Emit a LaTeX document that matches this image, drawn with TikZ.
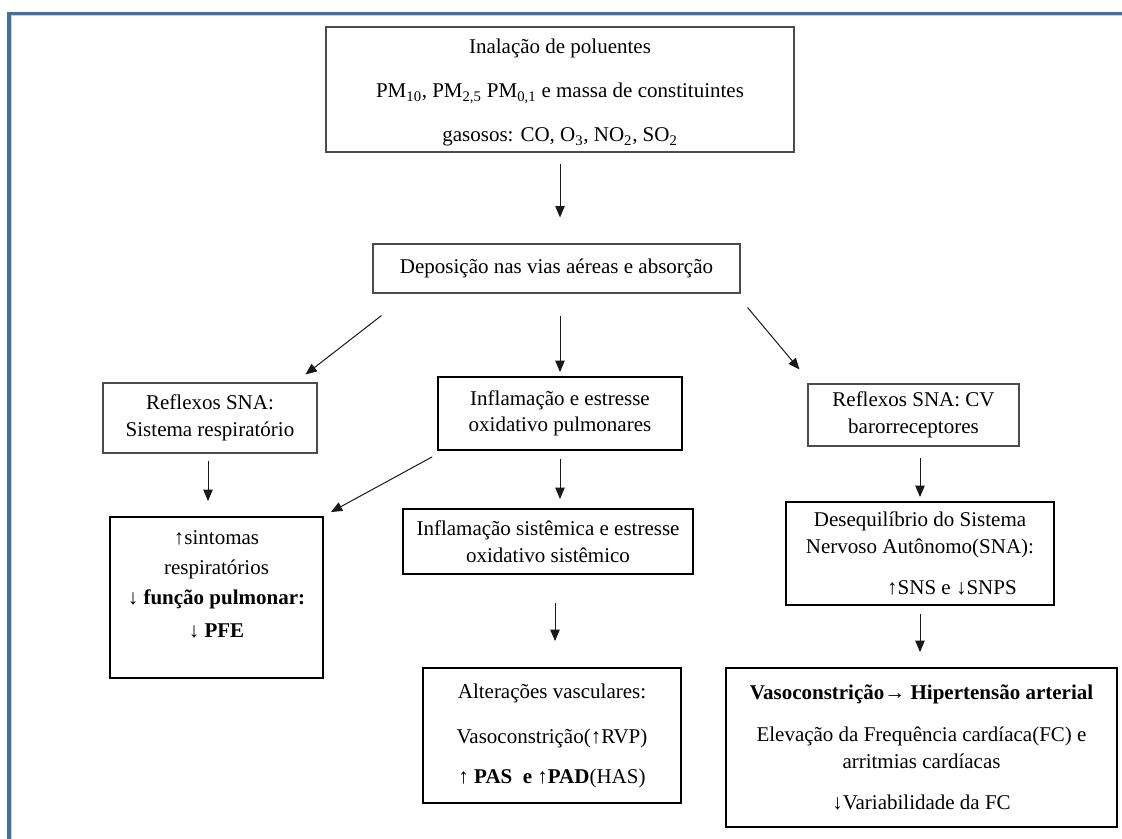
\documentclass[tikz,border=0pt]{standalone}
\usepackage{fontspec}
\setmainfont{Liberation Serif}
\usetikzlibrary{arrows.meta,calc}
\definecolor{frameblue}{RGB}{68,112,154}
\definecolor{framelight}{RGB}{185,212,232}
\begin{document}
\begin{tikzpicture}[x=0.75pt,y=-0.75pt,
  thinbox/.style={draw=black!70,line width=0.8pt,inner sep=0pt,align=center,
    font=\fontsize{15.75}{20}\selectfont},
  thickbox/.style={thinbox,draw=black,line width=1.4pt},
  conn/.style={draw=black!90,line width=0.75pt,-{Triangle[length=8.5pt,width=7pt]}}]
\useasboundingbox (0,0) rectangle (1122,839);
\fill[white] (0,0) rectangle (1122,839);
% frame
\draw[frameblue,line width=3pt,line join=miter] (9.3,839) -- (9.3,13.5) -- (1122,13.5);
\draw[framelight,line width=0.75pt] (11.8,839) -- (11.8,15.8) -- (1122,15.8);

% boxes
\node[thinbox,minimum width=468*0.75pt,minimum height=125*0.75pt] (inal) at (560,89.5)
  {\rule{0pt}{16pt}Inalação de poluentes\\[13pt]
   PM\textsubscript{10}, PM\textsubscript{2,5} PM\textsubscript{0,1} e massa de constituintes\\[13pt]
   gasosos: CO, O\textsubscript{3}, NO\textsubscript{2}, SO\textsubscript{2}};
\node[thinbox,minimum width=367*0.75pt,minimum height=49*0.75pt] (dep) at (556.5,268.5)
  {Deposição nas vias aéreas e absorção};
\node[thinbox,minimum width=214*0.75pt,minimum height=70*0.75pt] (refl) at (210,418)
  {Reflexos SNA:\\Sistema respiratório};
\node[thickbox,minimum width=244*0.75pt,minimum height=73*0.75pt] (infl) at (560,413.5)
  {Inflamação e estresse\\oxidativo pulmonares};
\node[thinbox,minimum width=211*0.75pt,minimum height=62*0.75pt] (reflcv) at (913.5,415)
  {Reflexos SNA: CV\\barorreceptores};
\node[thickbox,minimum width=213*0.75pt,minimum height=161*0.75pt] (sint) at (216.5,597.5)
  {↑sintomas\\[2.5pt]respiratórios\\[2.5pt]
   ↓ \textbf{função pulmonar:}\\[4.75pt]↓ \textbf{PFE}\rule[-20pt]{0pt}{0pt}};
\node[thickbox,minimum width=290*0.75pt,minimum height=65*0.75pt] (inflsis) at (548,541.5)
  {Inflamação sistêmica e estresse\\oxidativo sistêmico};
\node[thickbox,minimum width=258*0.75pt,minimum height=135*0.75pt] (alt) at (552,735.5)
  {Alterações vasculares:\\[13.75pt]Vasoconstrição(↑RVP)\\[10pt]
   ↑ \textbf{PAS\ \ e} ↑\textbf{PAD}(HAS)};
\node[thickbox,minimum width=268*0.75pt,minimum height=103*0.75pt] (deseq) at (920,553.5)
  {Desequilíbrio do Sistema\\Nervoso Autônomo(SNA):\\[10.75pt]
   \hspace*{48pt}↑SNS e ↓SNPS};
\node[thickbox,minimum width=391*0.75pt,minimum height=159*0.75pt] (big) at (921.5,747.5)
  {\textbf{Vasoconstrição→ Hipertensão arterial}\\[11.5pt]
   Elevação da Frequência cardíaca(FC) e\\arritmias cardíacas\\[10.75pt]
   ↓Variabilidade da FC};

% connectors
\draw[conn,shorten <=8.25pt,shorten >=19.5pt] (inal.south) -- (inal.south |- dep.north);
\draw[conn] ($(dep.south west)+(9,22)$) -- ($(refl.north east)+(-12,-8)$);
\draw[conn,shorten <=16.5pt,shorten >=3pt] (infl.north |- dep.south) -- (infl.north);
\draw[conn] ($(dep.south east)+(7,14)$) -- ($(reflcv.north west)+(-8,-14)$);
\draw[conn,shorten <=5.25pt,shorten >=11.25pt] ($(refl.south)+(-2,0)$) -- ($(refl.south |- sint.north)+(-2,0)$);
\draw[conn] ($(infl.south west)+(-5,6)$) -- ($(sint.north east)+(7,-4)$);
\draw[conn,shorten <=6pt,shorten >=6.75pt] (infl.south) -- (infl.south |- inflsis.north);
\draw[conn,shorten <=21pt,shorten >=19.5pt] ($(alt.north |- inflsis.south)+(3,0)$) -- ($(alt.north)+(3,0)$);
\draw[conn,shorten <=8.25pt,shorten >=3pt] (deseq.north |- reflcv.south) -- (deseq.north);
\draw[conn,shorten <=6pt,shorten >=11.25pt] (deseq.south) -- (deseq.south |- big.north);
\end{tikzpicture}
\end{document}
